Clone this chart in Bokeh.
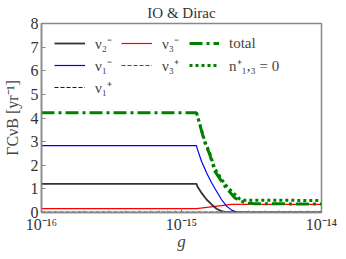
import numpy as np
from bokeh.plotting import figure
from bokeh.models import Legend, LegendItem, LogTicker, FixedTicker, CustomJSTickFormatter, Range1d
from bokeh.embed import file_html
from bokeh.resources import INLINE

# ---- data ----
g_nu2m = [1e-16, 1.28e-15, 1.30e-15, 1.39e-15, 1.51e-15, 1.64e-15, 1.78e-15, 1.93e-15, 2.10e-15, 2.40e-15, 1e-14]
nu2m = [1.21, 1.21, 1.10, 0.83, 0.55, 0.34, 0.16, 0.06, 0.01, 0.0, 0.0]

g_nu1m = [1e-16, 1.28e-15, 1.30e-15, 1.39e-15, 1.51e-15, 1.64e-15, 1.78e-15, 1.93e-15, 2.10e-15, 2.28e-15, 2.47e-15, 2.68e-15, 1e-14]
nu1m = [2.83, 2.83, 2.67, 2.17, 1.68, 1.26, 0.90, 0.55, 0.27, 0.10, 0.02, 0.0, 0.0]

g_nu1p = [1e-16, 1e-14]
nu1p = [0.01, 0.01]

g_nu3m = [1e-16, 1.28e-15, 2.28e-15, 1e-14]
nu3m = [0.16, 0.16, 0.34, 0.34]

g_nu3p = [1e-16, 1e-14]
nu3p = [0.01, 0.01]

g_total = [1e-16, 1.28e-15, 1.47e-15, 1.59e-15, 1.73e-15, 2.04e-15, 2.40e-15, 2.83e-15, 3.32e-15, 1e-14]
total = [4.22, 4.22, 2.95, 2.46, 1.75, 1.11, 0.62, 0.41, 0.37, 0.36]

g_n13 = [1.28e-15, 1.47e-15, 1.59e-15, 1.73e-15, 2.04e-15, 2.28e-15, 2.60e-15, 2.83e-15, 1e-14]
n13 = [4.22, 3.00, 2.52, 1.85, 1.20, 0.90, 0.58, 0.52, 0.51]

y_ticks = [0, 1, 2, 3, 4, 5, 6, 7, 8]

FONT = "Liberation Serif"

p = figure(x_axis_type="log", output_backend="svg", toolbar_location=None,
           frame_width=280, frame_height=189,
           x_range=Range1d(1e-16, 1e-14), y_range=Range1d(0, 8),
           min_border_left=5, min_border_right=16, min_border_top=5, min_border_bottom=5,
           title="IO & Dirac")
p.border_fill_color = "white"
p.title.align = "center"
p.title.text_font = FONT
p.title.text_font_style = "normal"
p.title.text_font_size = "15px"
p.title.text_color = "#333333"
p.title.standoff = 5
p.title.offset = 0

p.grid.visible = False
p.outline_line_color = "#888888"
p.outline_line_width = 1.5
p.background_fill_color = "white"

r_nu1p = p.line(g_nu1p, nu1p, color="blue", line_width=1, line_dash="4 2")
r_nu3p = p.line(g_nu3p, nu3p, color="red", line_width=1, line_dash="4 2")
r_nu3m = p.line(g_nu3m, nu3m, color="red", line_width=1.2)
r_nu2m = p.line(g_nu2m, nu2m, color="#333333", line_width=1.8)
r_nu1m = p.line(g_nu1m, nu1m, color="blue", line_width=1.2)
r_n13 = p.line(g_n13, n13, color="green", line_width=3, line_dash="3 3")
r_total = p.line(g_total, total, color="green", line_width=3, line_dash="13 4 3 4")

xa = p.xaxis[0]
xa.ticker = LogTicker(num_minor_ticks=10)
xa.formatter = CustomJSTickFormatter(code="""
const e = Math.round(Math.log10(tick));
const sup = {'-':'\u207b','0':'\u2070','1':'\u00b9','2':'\u00b2','3':'\u00b3','4':'\u2074','5':'\u2075','6':'\u2076','7':'\u2077','8':'\u2078','9':'\u2079'};
return '10' + String(e).split('').map(c => sup[c]).join('');
""")
xa.axis_label = "g"
xa.axis_label_text_font_style = "italic"
xa.axis_label_text_font = FONT
xa.axis_label_text_font_size = "17px"
xa.axis_label_standoff = -4

ya = p.yaxis[0]
ya.ticker = FixedTicker(ticks=y_ticks)
ya.axis_label = "ΓCνB [yr⁻¹]"
ya.axis_label_text_font = FONT
ya.axis_label_text_font_style = "normal"
ya.axis_label_text_font_size = "16px"
ya.axis_label_standoff = 7

for ax in (xa, ya):
    ax.major_label_text_font = FONT
    ax.major_label_text_font_size = "16px"
    ax.major_label_text_color = "#333333"
    ax.axis_line_color = "#888888"
    ax.axis_line_width = 1.5
    ax.major_tick_in = 4
    ax.major_tick_out = 0
    ax.minor_tick_in = 2
    ax.minor_tick_out = 0
    ax.major_tick_line_color = "#888888"
    ax.minor_tick_line_color = "#888888"
    ax.major_label_standoff = 3
ya.minor_tick_line_color = None

def make_legend(items, x, y, gw):
    lg = Legend(items=items, location=(x, y), orientation="vertical",
                padding=0, margin=0, spacing=0,
                glyph_width=gw, glyph_height=22, label_height=22,
                label_standoff=10,
                label_text_font=FONT, label_text_font_size="15px",
                background_fill_alpha=0, border_line_alpha=0)
    p.add_layout(lg)
    return lg

make_legend([LegendItem(label="ν₂⁻", renderers=[r_nu2m]),
             LegendItem(label="ν₁⁻", renderers=[r_nu1m]),
             LegendItem(label="ν₁⁺", renderers=[r_nu1p])], 13, 114, 31)
make_legend([LegendItem(label="ν₃⁻", renderers=[r_nu3m]),
             LegendItem(label="ν₃⁺", renderers=[r_nu3p])], 80, 136, 31)
make_legend([LegendItem(label="total", renderers=[r_total]),
             LegendItem(label="n⁺₁,₃ = 0", renderers=[r_n13])], 148, 136, 30)

open("out.html", "w").write(file_html(p, INLINE))
